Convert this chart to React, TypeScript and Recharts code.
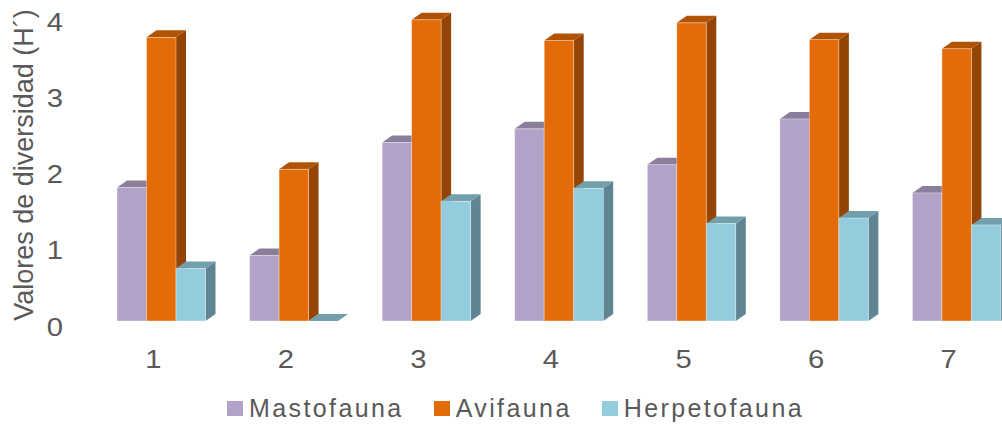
import React from 'react';
import { BarChart, Bar, XAxis, YAxis, Legend, Label } from 'recharts';

const categories = ['1', '2', '3', '4', '5', '6', '7'];
const mastofauna = [1.75, 0.86, 2.34, 2.52, 2.05, 2.65, 1.68];
const avifauna = [3.72, 1.99, 3.95, 3.68, 3.91, 3.69, 3.57];
const herpetofauna = [0.69, 0, 1.57, 1.74, 1.28, 1.35, 1.26];
const yTicks = [0, 1, 2, 3, 4];

const series = [
  { key: 'Mastofauna', front: '#B3A2C7', top: '#8B7E9B', side: '#7D708C' },
  { key: 'Avifauna', front: '#E36C09', top: '#B05306', side: '#944405' },
  { key: 'Herpetofauna', front: '#93CDDD', top: '#729FAC', side: '#5E8591' },
];

const data = categories.map((name, i) => ({
  name,
  Mastofauna: mastofauna[i],
  Avifauna: avifauna[i],
  Herpetofauna: herpetofauna[i],
}));

const FONT = '"Liberation Sans", Arial, sans-serif';
const TEXT = '#595959';
const DX = 10;
const DY = 7;
const STRETCH = 1.17;

// front face + top + right side, so the columns look like the excel 3d ones
function make3DBar(top: string, side: string) {
  return (props: any) => {
    const { x, y, width, height, fill } = props;
    if (x == null || y == null) return <g />;
    const h = Math.max(height || 0, 0);
    const topPts = `${x},${y} ${x + DX},${y - DY} ${x + width + DX},${y - DY} ${x + width},${y}`;
    const sidePts = `${x + width},${y} ${x + width + DX},${y - DY} ${x + width + DX},${y + h - DY} ${x + width},${y + h}`;
    return (
      <g>
        <polygon points={sidePts} fill={side} />
        <polygon points={topPts} fill={top} />
        {h > 0 && (
          <rect x={x} y={y} width={width} height={h} fill={fill} stroke="rgba(255,255,255,0.45)" strokeWidth={0.8} />
        )}
      </g>
    );
  };
}

const YTick = (props: any) => {
  const { y, payload } = props;
  return (
    <g transform={`translate(63,${y + 6}) scale(${STRETCH},1)`}>
      <text x={0} y={0} textAnchor="end" dominantBaseline="central" fontFamily={FONT} fontSize={25} fill={TEXT}>
        {payload.value}
      </text>
    </g>
  );
};

const XTick = (props: any) => {
  const { x, y, payload } = props;
  return (
    <g transform={`translate(${x - 8},${y + 38}) scale(${STRETCH},1)`}>
      <text x={0} y={0} textAnchor="middle" dominantBaseline="central" fontFamily={FONT} fontSize={25} fill={TEXT}>
        {payload.value}
      </text>
    </g>
  );
};

const YTitle = () => (
  <text
    x={33}
    y={165}
    transform="rotate(-90, 33, 165)"
    textAnchor="middle"
    fontFamily={FONT}
    fontSize={27}
    fill={TEXT}
  >
    Valores de diversidad (H´)
  </text>
);

const renderLegend = () => (
  <div style={{ display: 'flex', alignItems: 'center', height: 30, fontFamily: FONT, fontSize: 25, color: TEXT, letterSpacing: 2.4 }}>
    {series.map(s => (
      <div key={s.key} style={{ display: 'flex', alignItems: 'center', marginRight: 30 }}>
        <span style={{ display: 'inline-block', width: 16, height: 15, background: s.front, marginRight: 6 }} />
        <span>{s.key}</span>
      </div>
    ))}
  </div>
);

export default function App() {
  return (
    <div style={{ position: 'absolute', left: 0, top: 0, width: 1002, height: 427, overflow: 'hidden', background: '#fff' }}>
      <BarChart
        width={1023}
        height={427}
        data={data}
        margin={{ top: 16, right: 0, bottom: 0, left: 0 }}
        barGap={0}
      >
        <XAxis dataKey="name" axisLine={false} tickLine={false} tickSize={0} tickMargin={0} height={76} tick={<XTick />} interval={0} />
        <YAxis
          domain={[0, 4]}
          ticks={yTicks}
          width={95}
          axisLine={false}
          tickLine={false}
          tick={<YTick />}
        >
          <Label content={<YTitle />} />
        </YAxis>
        <Legend
          content={renderLegend}
          wrapperStyle={{ left: 227, top: 393, width: 700, height: 30 }}
        />
        {series.map(s => (
          <Bar
            key={s.key}
            dataKey={s.key}
            fill={s.front}
            barSize={29.5}
            shape={make3DBar(s.top, s.side)}
            isAnimationActive={false}
          />
        ))}
      </BarChart>
    </div>
  );
}
